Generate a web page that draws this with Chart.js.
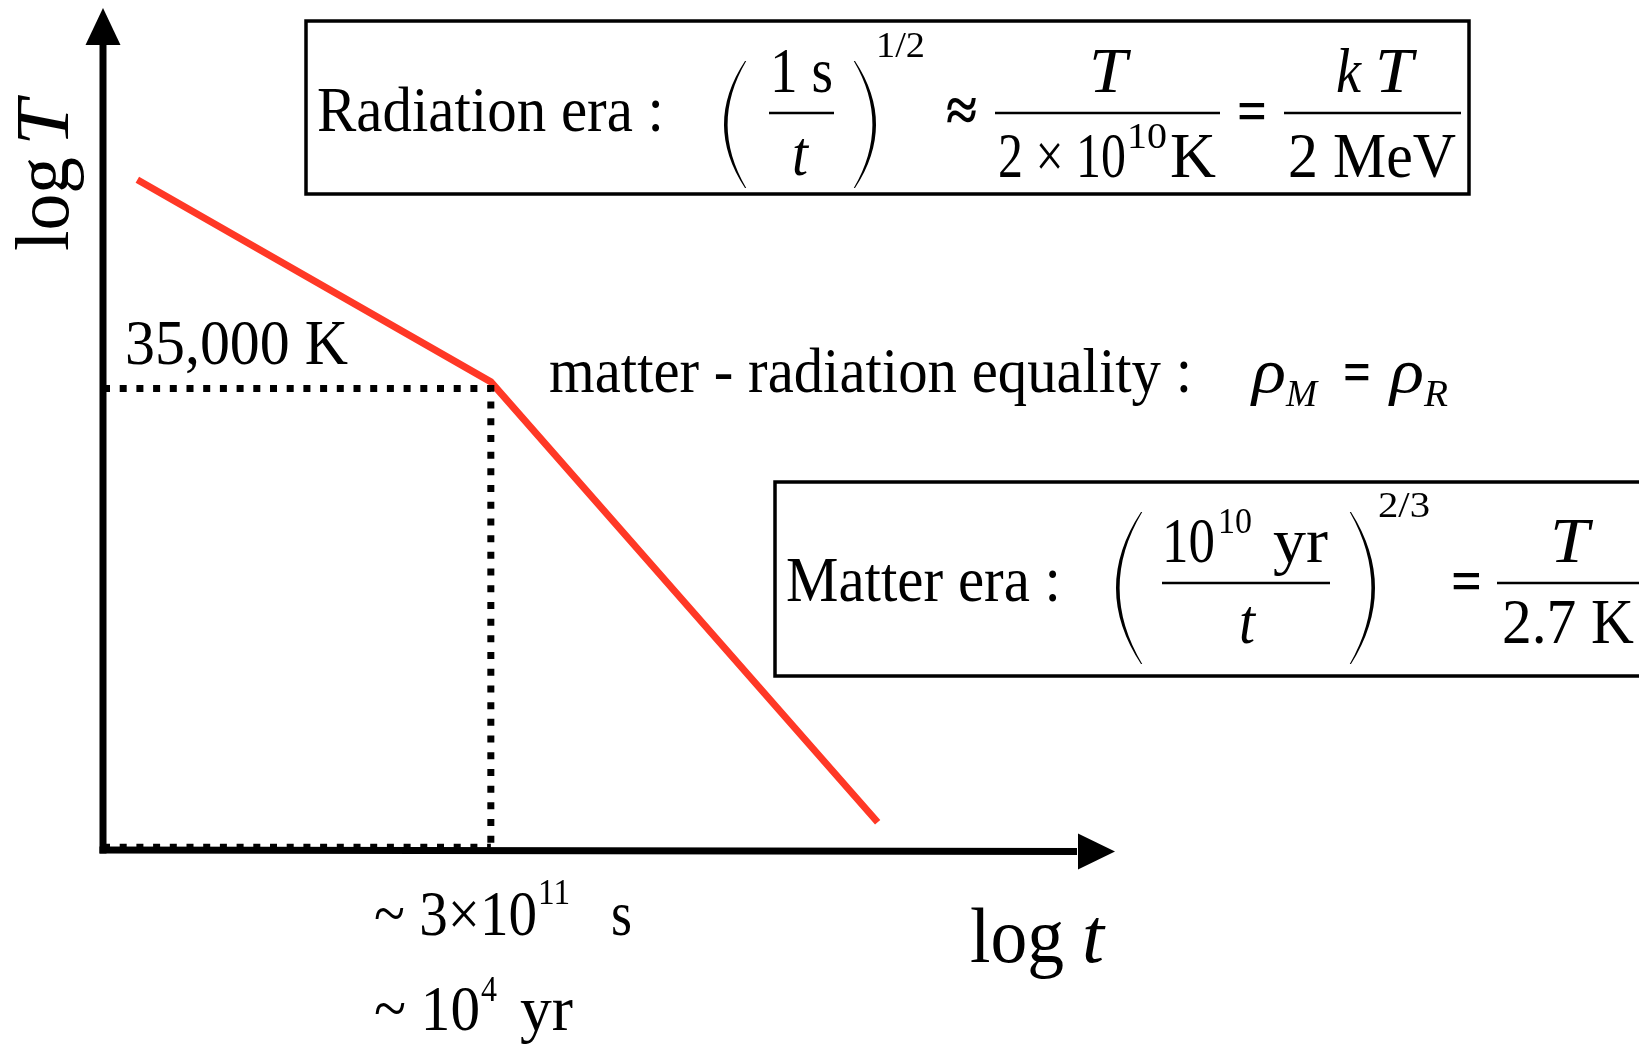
<!DOCTYPE html>
<html>
<head>
<meta charset="utf-8">
<script src="https://cdn.jsdelivr.net/npm/chart.js@4.4.1/dist/chart.umd.min.js"></script>
<style>
html,body{margin:0;padding:0;background:#fff;}
#wrap{width:1639px;height:1045px;}
</style>
</head>
<body>
<div id="wrap"><canvas id="c" width="1639" height="1045"></canvas></div>
<script>
// ---- data (schematic: log t vs log T, arbitrary units) ----
const curveLogT = [0.34, 3.84, 7.67];      // log t positions of the red broken line
const curveLogTemp = [7.96, 5.56, 0.33];   // log T values of the red broken line
const equalityLogT = [3.84];               // matter-radiation equality (log t)
const equalityLogTemp = [5.48];            // matter-radiation equality (log T)
const axisMax = [10, 10];                  // axis extents (x, y)
const tempLabel = "35,000 K";
const timeLabels = ["~ 3×10", "11", "s", "~ 10", "4", "yr"];

const SERIF = '"Liberation Serif","Times New Roman",serif';

function txt(ctx, s, x, y, size, opt) {
  opt = opt || {};
  ctx.save();
  ctx.font = (opt.italic ? 'italic ' : '') + (opt.bold ? 'bold ' : '') + size + 'px ' + SERIF;
  ctx.fillStyle = '#000';
  ctx.textBaseline = 'alphabetic';
  const w = ctx.measureText(s).width;
  let sx = 1;
  if (opt.width) sx = opt.width / w;
  let x0 = x;
  if (opt.center) x0 = x - (opt.width || w) / 2;
  ctx.translate(x0, y);
  ctx.scale(sx, 1);
  ctx.fillText(s, 0, 0);
  ctx.restore();
}
function hbar(ctx, x1, x2, y, lw) {
  ctx.save(); ctx.strokeStyle = '#000'; ctx.lineWidth = lw || 2.5;
  ctx.beginPath(); ctx.moveTo(x1, y); ctx.lineTo(x2, y); ctx.stroke(); ctx.restore();
}
// crescent-shaped bracket: thin at the ends, thicker in the middle
function paren(ctx, xEdge, xMid, y1, y2) {
  const dir = xMid < xEdge ? 1 : -1; // thickness grows towards inside
  const ym = (y1 + y2) / 2;
  ctx.save(); ctx.fillStyle = '#000';
  ctx.beginPath();
  ctx.moveTo(xEdge, y1);
  ctx.quadraticCurveTo(2 * xMid - xEdge, ym, xEdge, y2);
  ctx.lineTo(xEdge + dir * 1.2, y2);
  ctx.quadraticCurveTo(2 * (xMid + dir * 3.6) - xEdge - dir * 1.2, ym, xEdge + dir * 1.2, y1);
  ctx.closePath();
  ctx.fill();
  ctx.restore();
}

const decor = {
  id: 'decor',
  beforeDatasetsDraw(chart) {
    const ctx = chart.ctx;
    const xs = chart.scales.x, ys = chart.scales.y;
    const x0 = xs.getPixelForValue(0), y0 = ys.getPixelForValue(0);
    const xT = xs.getPixelForValue(axisMax[0]), yT = ys.getPixelForValue(axisMax[1]);
    ctx.save();
    ctx.fillStyle = '#000'; ctx.strokeStyle = '#000'; ctx.lineWidth = 7;
    // y axis
    ctx.beginPath(); ctx.moveTo(x0, y0 + 3.5); ctx.lineTo(x0, yT + 36); ctx.stroke();
    ctx.beginPath(); ctx.moveTo(x0, yT); ctx.lineTo(x0 - 17.5, yT + 37); ctx.lineTo(x0 + 17.5, yT + 37); ctx.closePath(); ctx.fill();
    // x axis
    ctx.beginPath(); ctx.moveTo(x0 - 3.5, y0); ctx.lineTo(xT - 36, y0 + 1.5); ctx.stroke();
    ctx.beginPath(); ctx.moveTo(xT + 2, y0 + 1.5); ctx.lineTo(xT - 35, y0 - 16.5); ctx.lineTo(xT - 35, y0 + 19.5); ctx.closePath(); ctx.fill();
    ctx.restore();
  },
  afterDraw(chart) {
    const ctx = chart.ctx;
    ctx.save();
    // ---- axis titles ----
    ctx.save();
    ctx.translate(68, 251); ctx.rotate(-Math.PI / 2);
    txt(ctx, 'log', 0, 0, 77, {width: 94});
    txt(ctx, 'T', 105, 0, 77, {italic: true, width: 46});
    ctx.restore();
    txt(ctx, 'log', 970, 962, 79, {width: 94});
    txt(ctx, 't', 1082, 962, 79, {italic: true, width: 22});

    // ---- labels at equality ----
    txt(ctx, tempLabel, 125, 364, 63, {width: 223});
    txt(ctx, timeLabels[0], 374, 935, 63, {width: 163});
    txt(ctx, timeLabels[1], 538, 904, 36, {width: 32});
    txt(ctx, timeLabels[2], 611, 935, 63, {width: 21});
    txt(ctx, timeLabels[3], 374, 1030, 63, {width: 106});
    txt(ctx, timeLabels[4], 481, 1001, 36, {width: 16});
    txt(ctx, timeLabels[5], 520, 1030, 63, {width: 53});

    // ---- matter-radiation equality ----
    txt(ctx, 'matter - radiation equality :', 549, 392, 63, {width: 643});
    txt(ctx, 'ρ', 1252, 392, 63, {italic: true, width: 34});
    txt(ctx, 'M', 1286, 406, 38, {italic: true, width: 31});
    txt(ctx, '=', 1343, 392, 62, {bold: true, width: 28});
    txt(ctx, 'ρ', 1390, 392, 63, {italic: true, width: 34});
    txt(ctx, 'R', 1424, 406, 38, {italic: true, width: 24});

    // ---- radiation era box ----
    ctx.save(); ctx.strokeStyle = '#000'; ctx.lineWidth = 3.5;
    ctx.strokeRect(306, 21, 1163, 173); ctx.restore();
    txt(ctx, 'Radiation era :', 317, 131, 63, {width: 347});
    paren(ctx, 745, 724, 61, 188);
    paren(ctx, 855, 876, 61, 188);
    txt(ctx, '1 s', 770, 92, 63, {width: 63});
    hbar(ctx, 769, 834, 113);
    txt(ctx, 't', 792, 175, 63, {italic: true, width: 16});
    txt(ctx, '1/2', 876, 57, 35, {width: 49});
    txt(ctx, '≈', 946, 131, 62, {bold: true, width: 31});
    hbar(ctx, 995, 1220, 113);
    txt(ctx, 'T', 1108, 92, 63, {italic: true, center: true, width: 38});
    txt(ctx, '2 × 10', 998, 177, 63, {width: 128});
    txt(ctx, '10', 1127, 148, 36, {width: 40});
    txt(ctx, 'K', 1170, 177, 63, {width: 46});
    txt(ctx, '=', 1237, 131, 62, {bold: true, width: 30});
    hbar(ctx, 1284, 1461, 113);
    txt(ctx, 'k', 1336, 92, 63, {italic: true, width: 25});
    txt(ctx, 'T', 1375, 92, 63, {italic: true, width: 38});
    txt(ctx, '2 MeV', 1288, 177, 63, {width: 168});

    // ---- matter era box ----
    ctx.save(); ctx.strokeStyle = '#000'; ctx.lineWidth = 3.5;
    ctx.strokeRect(775, 482, 900, 194); ctx.restore();
    txt(ctx, 'Matter era :', 786, 601, 63, {width: 275});
    paren(ctx, 1141, 1116, 512, 664);
    paren(ctx, 1351, 1375, 512, 664);
    txt(ctx, '10', 1162, 562, 63, {width: 53});
    txt(ctx, '10', 1218, 533, 36, {width: 34});
    txt(ctx, 'yr', 1273, 562, 63, {width: 55});
    hbar(ctx, 1162, 1330, 583);
    txt(ctx, 't', 1239, 643, 63, {italic: true, width: 16});
    txt(ctx, '2/3', 1378, 517, 35, {width: 52});
    txt(ctx, '=', 1451, 601, 62, {bold: true, width: 31});
    hbar(ctx, 1497, 1645, 583);
    txt(ctx, 'T', 1550, 562, 63, {italic: true, width: 39});
    txt(ctx, '2.7 K', 1502, 643, 63, {width: 132});
    ctx.restore();
  }
};

const curve = curveLogT.map((x, i) => ({x: x, y: curveLogTemp[i]}));
const eqLines = [
  {x: 0, y: equalityLogTemp[0]},
  {x: equalityLogT[0], y: equalityLogTemp[0]},
  {x: equalityLogT[0], y: 0}
];
const eqBase = [{x: 0, y: 0.05}, {x: equalityLogT[0], y: 0.05}];

new Chart(document.getElementById('c'), {
  type: 'scatter',
  data: {
    datasets: [
      {label: 'equality', data: eqLines, showLine: true, borderColor: '#000', borderWidth: 7,
       borderDash: [7, 9.7], borderCapStyle: 'butt', pointRadius: 0, fill: false, clip: false},
      {label: 'equality base', data: eqBase, showLine: true, borderColor: '#000', borderWidth: 4,
       borderDash: [7, 9.7], borderCapStyle: 'butt', pointRadius: 0, fill: false, clip: false},
      {label: 'T(t)', data: curve, showLine: true, borderColor: 'rgb(255,56,38)', borderWidth: 7,
       pointRadius: 0, fill: false, clip: false, borderJoinStyle: 'miter'}
    ]
  },
  options: {
    responsive: false,
    animation: false,
    layout: {padding: {left: 103, right: 526, top: 8, bottom: 195}},
    plugins: {legend: {display: false}, tooltip: {enabled: false}},
    scales: {
      x: {type: 'linear', min: 0, max: axisMax[0], display: false},
      y: {type: 'linear', min: 0, max: axisMax[1], display: false}
    }
  },
  plugins: [decor]
});
</script>
</body>
</html>
